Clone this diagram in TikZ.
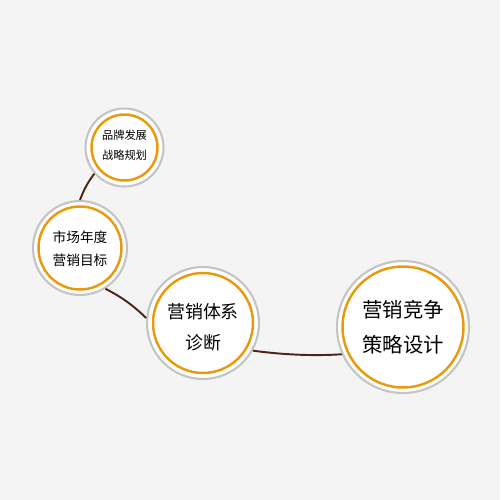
\documentclass[tikz,border=0pt]{standalone}
\usepackage{fontspec}
\setmainfont{Noto Sans CJK SC}
\definecolor{bg}{HTML}{F4F4F4}
\definecolor{ringorange}{HTML}{E89A0C}
\definecolor{ringgray}{HTML}{C4C4C4}
\definecolor{linkbrown}{HTML}{4E2418}
\tikzset{
  bubble/.style={circle, draw=ringgray, line width=1.2pt, fill=white, align=center, inner sep=0pt, text=black},
  ring/.style={draw=ringorange, line width=1.4pt},
  link/.style={draw=linkbrown, line width=1.1pt},
  caption/.style={align=center, inner sep=0pt, text=black}
}
\begin{document}
\begin{tikzpicture}[x=0.02cm, y=-0.02cm]
\fill[bg] (0,0) rectangle (500,500);
\useasboundingbox (0,0) rectangle (500,500);
% circles
\node[bubble, minimum size=1.56cm] (c1) at (124.5,147.5) {};
\draw[ring] (c1.center) circle[radius=0.66cm];
\node[caption, font=\fontsize{6.4}{11.3}\selectfont] (t1) at (124.5,145) {品牌发展\\战略规划};
\node[bubble, minimum size=1.88cm] (c2) at (80,248) {};
\draw[ring] (c2.center) circle[radius=0.83cm];
\node[caption, font=\fontsize{7.8}{13}\selectfont] (t2) at (80,248.5) {市场年度\\营销目标};
\node[bubble, minimum size=2.24cm] (c3) at (203,323) {};
\draw[ring] (c3.center) circle[radius=1.0cm];
\node[caption, font=\fontsize{10.2}{17.6}\selectfont] (t3) at (203,327) {营销体系\\诊断};
\node[bubble, minimum size=2.64cm] (c4) at (403,327) {};
\draw[ring] (c4.center) circle[radius=1.21cm];
\node[caption, font=\fontsize{11.6}{19.8}\selectfont] (t4) at (403,327.5) {营销竞争\\策略设计};
% connectors
\draw[link] (c1.221) to[bend right=8] (c2.90);
\draw[link] (c2.302) to[bend left=8] (c3.175);
\draw[link] (c3.331) .. controls (285,355) and (315,356) .. (c4.204);
\end{tikzpicture}
\end{document}
